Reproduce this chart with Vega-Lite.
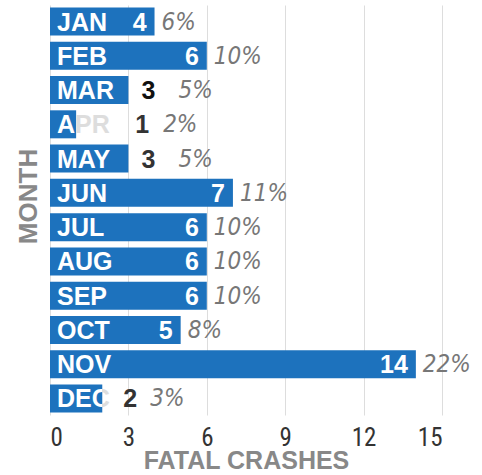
{
  "$schema": "https://vega.github.io/schema/vega-lite/v6.json",
  "autosize": "none",
  "width": 392,
  "height": 410,
  "padding": {"left": 50, "top": 5, "right": 40, "bottom": 60},
  "background": "white",
  "config": {"view": {"stroke": null}},
  "data": {"values": [
    {"month": "JAN", "crashes": 4, "pct": "6%"},
    {"month": "FEB", "crashes": 6, "pct": "10%"},
    {"month": "MAR", "crashes": 3, "pct": "5%"},
    {"month": "APR", "crashes": 1, "pct": "2%"},
    {"month": "MAY", "crashes": 3, "pct": "5%"},
    {"month": "JUN", "crashes": 7, "pct": "11%"},
    {"month": "JUL", "crashes": 6, "pct": "10%"},
    {"month": "AUG", "crashes": 6, "pct": "10%"},
    {"month": "SEP", "crashes": 6, "pct": "10%"},
    {"month": "OCT", "crashes": 5, "pct": "8%"},
    {"month": "NOV", "crashes": 14, "pct": "22%"},
    {"month": "DEC", "crashes": 2, "pct": "3%"}
  ]},
  "encoding": {
    "y": {
      "field": "month", "type": "nominal", "sort": null,
      "scale": {"paddingInner": 0.183, "paddingOuter": 0.073},
      "axis": {"title": "MONTH", "labels": false, "ticks": false, "domain": false, "grid": false,
        "titleFont": "Liberation Sans", "titleFontWeight": "bold", "titleFontSize": 26, "titleColor": "#888888",
        "titleX": -22, "titleY": 191, "titleBaseline": "middle", "titleAlign": "center", "titleAngle": -90}
    }
  },
  "layer": [
    {
      "mark": {"type": "bar", "color": "#1d72bd"},
      "encoding": {
        "x": {"field": "crashes", "type": "quantitative",
          "scale": {"domain": [0, 15], "nice": false},
          "axis": {"values": [0, 3, 6, 9, 12, 15], "title": "FATAL CRASHES", "ticks": false, "domain": false,
            "grid": true, "gridColor": "#dddddd", "gridWidth": 1,
            "labelFont": "Roboto Condensed", "labelFontSize": 25, "labelColor": "#333333", "labelPadding": 30, "labelBaseline": "alphabetic",
            "titleFont": "Liberation Sans", "titleFontWeight": "bold", "titleFontSize": 25, "titleColor": "#888888",
            "titleBaseline": "alphabetic", "titleY": 53}
        }
      }
    },
    {
      "mark": {"type": "text", "align": "left", "baseline": "middle", "dx": 7, "dy": 1, "font": "Liberation Sans", "fontWeight": "bold", "fontSize": 25},
      "encoding": {
        "x": {"datum": 0, "type": "quantitative"},
        "text": {"field": "month"},
        "color": {
          "condition": [
            {"test": "datum.month == 'APR'", "value": {"gradient": "linear", "x1": 0, "x2": 1, "y1": 0, "y2": 0, "stops": [{"offset": 0, "color": "#ffffff"}, {"offset": 0.36, "color": "#ffffff"}, {"offset": 0.361, "color": "#dddddd"}, {"offset": 1, "color": "#dddddd"}]}},
            {"test": "datum.month == 'DEC'", "value": {"gradient": "linear", "x1": 0, "x2": 1, "y1": 0, "y2": 0, "stops": [{"offset": 0, "color": "#ffffff"}, {"offset": 0.85, "color": "#ffffff"}, {"offset": 0.851, "color": "#dddddd"}, {"offset": 1, "color": "#dddddd"}]}}
          ],
          "value": "#ffffff"
        }
      }
    },
    {
      "transform": [{"filter": "datum.crashes >= 4"}],
      "mark": {"type": "text", "align": "right", "baseline": "middle", "dx": -8, "dy": 1, "font": "Liberation Sans", "fontWeight": "bold", "fontSize": 25, "color": "#ffffff"},
      "encoding": {"x": {"field": "crashes", "type": "quantitative"}, "text": {"field": "crashes"}}
    },
    {
      "transform": [{"filter": "datum.month == 'MAR' || datum.month == 'MAY'"}],
      "mark": {"type": "text", "align": "left", "baseline": "middle", "dx": 13, "dy": 1, "font": "Liberation Sans", "fontWeight": "bold", "fontSize": 25},
      "encoding": {"x": {"field": "crashes", "type": "quantitative"}, "text": {"field": "crashes"},
        "color": {"condition": {"test": "datum.month == 'MAR'", "value": "#111111"}, "value": "#333333"}}
    },
    {
      "transform": [{"filter": "datum.month == 'APR'"}],
      "mark": {"type": "text", "align": "left", "baseline": "middle", "dx": 59, "dy": 1, "font": "Liberation Sans", "fontWeight": "bold", "fontSize": 25, "color": "#333333"},
      "encoding": {"x": {"field": "crashes", "type": "quantitative"}, "text": {"field": "crashes"}}
    },
    {
      "transform": [{"filter": "datum.month == 'DEC'"}],
      "mark": {"type": "text", "align": "left", "baseline": "middle", "dx": 21, "dy": 1, "font": "Liberation Sans", "fontWeight": "bold", "fontSize": 25, "color": "#333333"},
      "encoding": {"x": {"field": "crashes", "type": "quantitative"}, "text": {"field": "crashes"}}
    },
    {
      "transform": [{"filter": "datum.crashes >= 4"}],
      "mark": {"type": "text", "align": "left", "baseline": "middle", "dx": 7, "dy": 1, "font": "DejaVu Sans Condensed", "fontStyle": "italic", "fontSize": 24, "color": "#777777"},
      "encoding": {"x": {"field": "crashes", "type": "quantitative"}, "text": {"field": "pct"}}
    },
    {
      "transform": [{"filter": "datum.month == 'MAR' || datum.month == 'MAY'"}],
      "mark": {"type": "text", "align": "left", "baseline": "middle", "dx": 50, "dy": 1, "font": "DejaVu Sans Condensed", "fontStyle": "italic", "fontSize": 24, "color": "#777777"},
      "encoding": {"x": {"field": "crashes", "type": "quantitative"}, "text": {"field": "pct"}}
    },
    {
      "transform": [{"filter": "datum.month == 'APR'"}],
      "mark": {"type": "text", "align": "left", "baseline": "middle", "dx": 87, "dy": 1, "font": "DejaVu Sans Condensed", "fontStyle": "italic", "fontSize": 24, "color": "#777777"},
      "encoding": {"x": {"field": "crashes", "type": "quantitative"}, "text": {"field": "pct"}}
    },
    {
      "transform": [{"filter": "datum.month == 'DEC'"}],
      "mark": {"type": "text", "align": "left", "baseline": "middle", "dx": 48, "dy": 1, "font": "DejaVu Sans Condensed", "fontStyle": "italic", "fontSize": 24, "color": "#777777"},
      "encoding": {"x": {"field": "crashes", "type": "quantitative"}, "text": {"field": "pct"}}
    }
  ]
}
